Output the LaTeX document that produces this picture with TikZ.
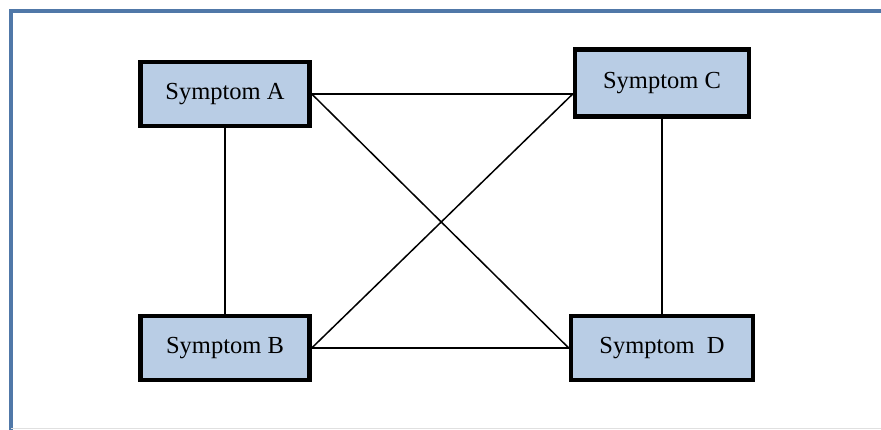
\documentclass[tikz,border=0pt]{standalone}
\usepackage{fontspec}
\setmainfont{Liberation Serif}
\usetikzlibrary{positioning, calc}
\definecolor{boxblue}{HTML}{B9CDE5}
\definecolor{frameblue}{HTML}{5078A8}

\begin{document}
\begin{tikzpicture}[x=1pt,y=-1pt,font=\fontsize{24.5}{28}\selectfont,
  sym/.style={draw,line width=4.5pt,fill=boxblue,minimum width=169pt,minimum height=64pt,inner sep=0pt}]
  \useasboundingbox (0,0) rectangle (881,430);
  \draw[frameblue,line width=3.5pt] (11,430) -- (11,11) -- (881,11);
  \draw[black!12,line width=1pt] (11,428.5) -- (881,428.5);
  \node[sym](a) at (225,94){Symptom A};\node[sym,minimum width=174pt,minimum height=67pt](c) at (662,83){Symptom C};
  \node[sym](b) at (225,348){Symptom B};\node[sym,minimum width=182pt](d) at (662,348){Symptom~~D};
  \coordinate (cin) at (a.east -| c.west);\coordinate (din) at (b.east -| d.west);
  \draw[line width=1.5pt](a)--(b);\draw[line width=1.5pt](c)--(d);
  \draw[line width=1.5pt](a.east)--(cin);\draw[line width=1.5pt](a.east)--(din);
  \draw[line width=1.5pt](b.east)--(cin);\draw[line width=1.5pt](b.east)--(din);
\end{tikzpicture}
\end{document}
